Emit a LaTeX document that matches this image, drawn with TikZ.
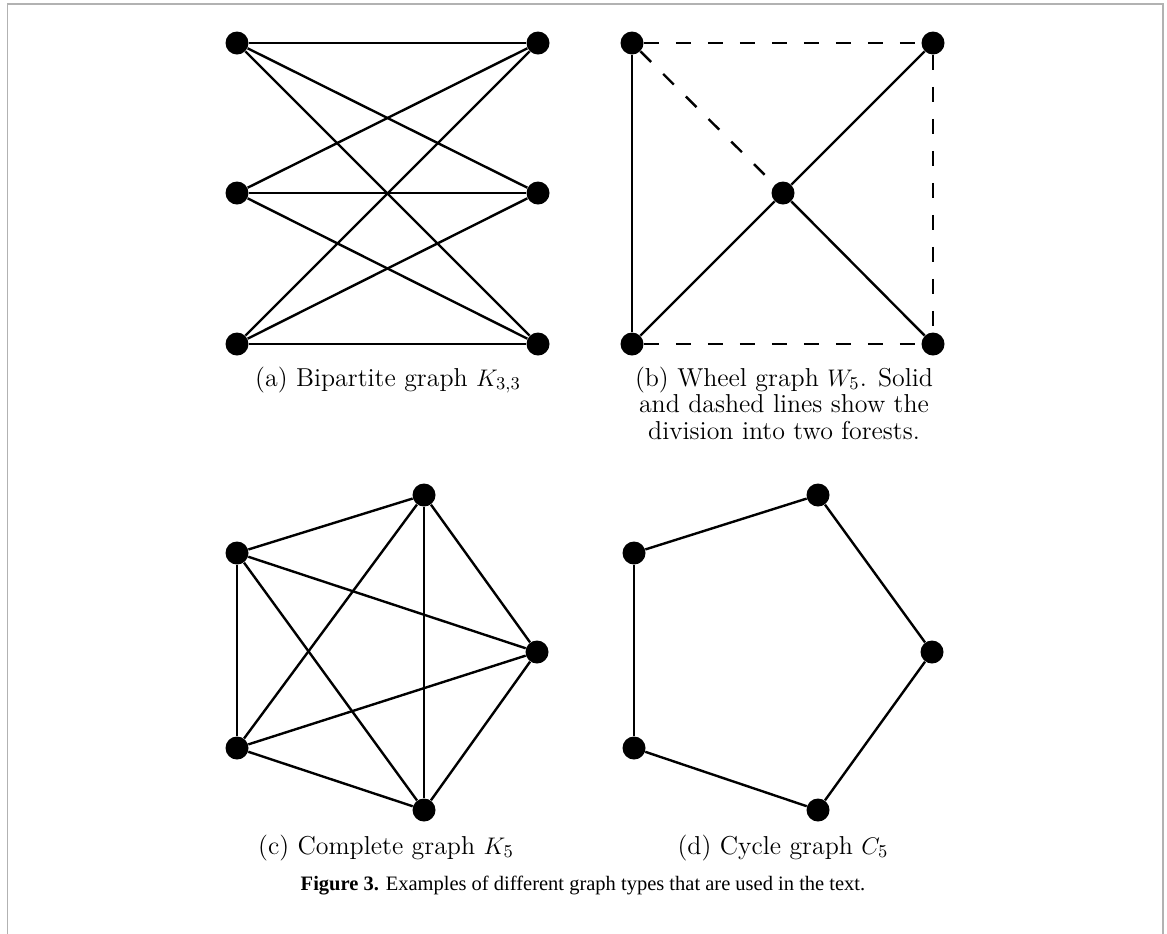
\documentclass[tikz,border=0pt]{standalone}
\usepackage{fontspec}
\newfontfamily\capfont{Liberation Serif}
\begin{document}
\begin{tikzpicture}[x=0.5pt,y=-0.5pt,
  vtx/.style={circle,fill=black,inner sep=0pt,minimum size=11.5pt},
  edge/.style={line width=1.2pt},
  dedge/.style={line width=1.2pt,dash pattern=on 7.5pt off 8.5pt},
  sub/.style={anchor=base,font=\fontsize{12.95}{13.3}\selectfont,align=center},
  frame/.style={draw=black!30,line width=0.8pt}]
\useasboundingbox (0,0) rectangle (1167,933);
\draw[frame] (7.5,960) -- (7.5,4) -- (1163,4) -- (1163,960);
% (a) K33
\node[vtx] (a1) at (237,43) {};
\node[vtx] (a2) at (237,193) {};
\node[vtx] (a3) at (237,344) {};
\node[vtx] (a4) at (538,43) {};
\node[vtx] (a5) at (538,193) {};
\node[vtx] (a6) at (538,344) {};
\foreach \l in {a1,a2,a3}{\foreach \r in {a4,a5,a6}{\draw[edge] (\l) -- (\r);}}
% (b) W5
\node[vtx] (b1) at (632,43) {};
\node[vtx] (b2) at (933,43) {};
\node[vtx] (b3) at (632,344) {};
\node[vtx] (b4) at (933,344) {};
\node[vtx] (b0) at (783,193) {};
\draw[edge] (b1) -- (b3);
\draw[edge] (b0) -- (b2);
\draw[edge] (b0) -- (b3);
\draw[edge] (b0) -- (b4);
\draw[dedge] (b1) -- (b2);
\draw[dedge] (b2) -- (b4);
\draw[dedge] (b3) -- (b4);
\draw[dedge] (b1) -- (b0);
% (c) K5
\node[vtx] (c1) at (237,553) {};
\node[vtx] (c2) at (424,495) {};
\node[vtx] (c3) at (537,652) {};
\node[vtx] (c4) at (424,810) {};
\node[vtx] (c5) at (237,748) {};
\foreach \u/\v in {c1/c2,c1/c3,c1/c4,c1/c5,c2/c3,c2/c4,c2/c5,c3/c4,c3/c5,c4/c5}{\draw[edge] (\u) -- (\v);}
% (d) C5
\node[vtx] (d1) at (634,553) {};
\node[vtx] (d2) at (818,495) {};
\node[vtx] (d3) at (932,652) {};
\node[vtx] (d4) at (818,810) {};
\node[vtx] (d5) at (634,748) {};
\foreach \u/\v in {d1/d2,d2/d3,d3/d4,d4/d5,d5/d1}{\draw[edge] (\u) -- (\v);}
% captions
\node[sub] (ta) at (388,386) {(a) Bipartite graph $K_{3,3}$};
\node[sub] (tb1) at (784,386) {(b) Wheel graph $W_5$. Solid};
\node[sub] (tb2) at (784,412.5) {and dashed lines show the};
\node[sub] (tb3) at (784,439) {division into two forests.};
\node[sub] (tc) at (386,854) {(c) Complete graph $K_5$};
\node[sub] (td) at (783,854) {(d) Cycle graph $C_5$};
\node[anchor=base,font=\capfont\fontsize{10.25}{12}\selectfont] (cap) at (583,890) {\textbf{Figure 3.} Examples of different graph types that are used in the text.};
\end{tikzpicture}
\end{document}
